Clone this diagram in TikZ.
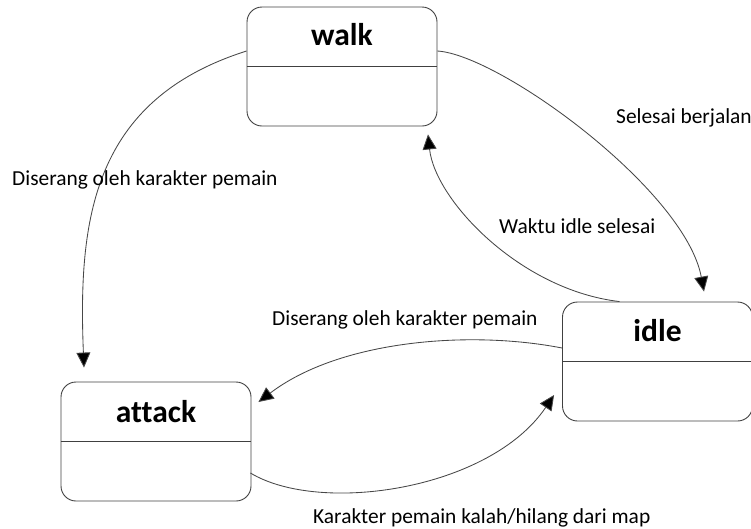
\documentclass[tikz,border=0pt]{standalone}
\usepackage{fontspec}
\setmainfont[Ligatures={NoCommon}]{Carlito}
\usetikzlibrary{arrows.meta,calc}
\begin{document}
\begin{tikzpicture}[x=1pt,y=-1pt,
  statebox/.style={draw=black!75,line width=0.9pt,rounded corners=15pt,minimum width=190pt,minimum height=119pt,inner sep=0pt},
  divider/.style={draw=black!75,line width=0.9pt},
  title/.style={font=\fontsize{31.5}{36}\selectfont\bfseries,anchor=base,inner sep=0pt},
  lbl/.style={font=\fontsize{21.4}{25}\selectfont,anchor=base west,inner sep=0pt},
  conn/.style={draw=black!72,line width=0.85pt,-{Triangle[length=15pt,width=14pt,fill=black]}}]
\useasboundingbox (0,0) rectangle (751,528);
% states
\node[statebox] (walk) at (342,66.5) {};
\node[statebox] (idle) at (657.5,361.5) {};
\node[statebox] (attack) at (156,441.5) {};
\draw[divider] (walk.west) -- (walk.east);
\draw[divider] (idle.west) -- (idle.east);
\draw[divider] (attack.west) -- (attack.east);
\node[title] (walkt) at (342,45) {walk};
\node[title] (idlet) at (657.5,341) {idle};
\node[title] (attackt) at (156,422) {attack};
% tips
\coordinate (tipA) at ($(attack.north)+(-72,-14)$);
\coordinate (tipI) at ($(idle.north)+(46.5,-10)$);
\coordinate (tipW) at ($(walk.south)+(86,8)$);
\coordinate (tipA2) at ($(attack.east)+(7,-39.5)$);
\coordinate (tipI2) at ($(idle.west)+(-8,33.5)$);
% connectors
\draw[conn] ($(walk.west)+(0,-15.5)$) .. controls (92,100) and (78,220) .. (tipA);
\draw[conn] ($(walk.east)+(0,-15.5)$) .. controls (500,55) and (685,190) .. (tipI);
\draw[conn] ($(idle.north)+(-38,0)$) .. controls (520,290) and (435,200) .. (tipW);
\draw[conn] ($(idle.west)+(0,-13.5)$) .. controls (470,330) and (340,340) .. (tipA2);
\draw[conn] ($(attack.east)+(-1,31.5)$) .. controls (320,515) and (490,490) .. (tipI2);
% labels
\node[lbl] (l1) at (12,185) {Diserang oleh karakter pemain};
\node[lbl] (l2) at (616,123) {Selesai berjalan};
\node[lbl] (l3) at (499,233) {Waktu idle selesai};
\node[lbl] (l4) at (272,325) {Diserang oleh karakter pemain};
\node[lbl] (l5) at (313,523) {Karakter pemain kalah/hilang dari map};
\end{tikzpicture}
\end{document}
